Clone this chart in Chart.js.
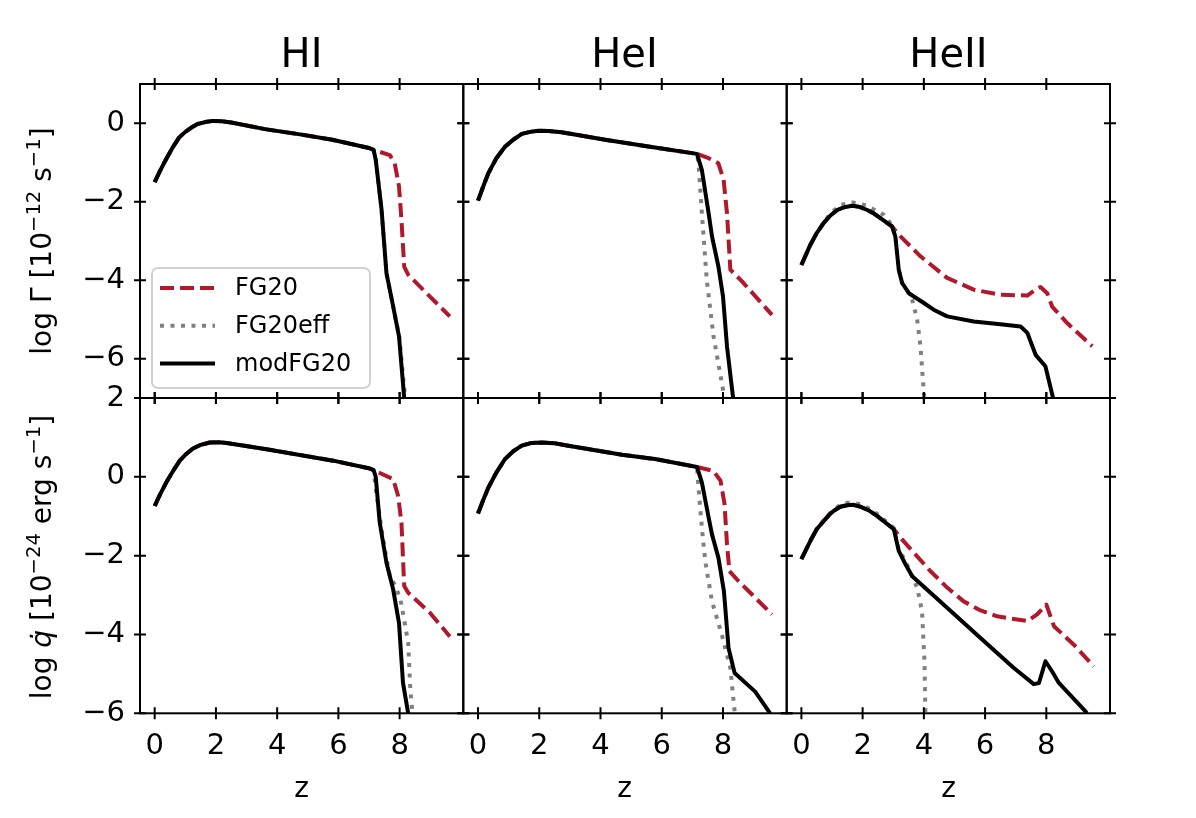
<!DOCTYPE html>
<html>
<head>
<meta charset="utf-8">
<script src="https://cdn.jsdelivr.net/npm/chart.js@4.4.1/dist/chart.umd.min.js"></script>
<style>
  html, body { margin: 0; padding: 0; background: #fff; }
  #fig { position: relative; width: 1196px; height: 818px; font-family: "DejaVu Sans", sans-serif; color: #000; overflow: hidden; }
  #fig canvas { position: absolute; left: 0; top: 0; }
  .title { position: absolute; top: 33px; width: 323px; text-align: center; font-size: 40px; line-height: 40px; }
  .xlab { position: absolute; top: 774px; width: 323px; text-align: center; font-size: 28px; line-height: 28px; }
  .ylab { position: absolute; left: -128px; width: 340px; height: 28px; font-size: 28px; line-height: 28px;
          text-align: center; white-space: nowrap; transform: rotate(-90deg); }
  .ylab sup { font-size: 70%; line-height: 0; vertical-align: 11px; }
</style>
</head>
<body>
<div id="fig">
  <canvas id="hiRate" width="1196" height="818"></canvas>
  <canvas id="heiRate" width="1196" height="818"></canvas>
  <canvas id="heiiRate" width="1196" height="818"></canvas>
  <canvas id="hiHeat" width="1196" height="818"></canvas>
  <canvas id="heiHeat" width="1196" height="818"></canvas>
  <canvas id="heiiHeat" width="1196" height="818"></canvas>

  <div class="title" style="left:140px">HI</div>
  <div class="title" style="left:463px">HeI</div>
  <div class="title" style="left:787px">HeII</div>

  <div class="ylab" style="top:227px">log &Gamma; [10<sup>&minus;12</sup> s<sup>&minus;1</sup>]</div>
  <div class="ylab" style="top:543px">log <i>q&#775;</i> [10<sup>&minus;24</sup> erg s<sup>&minus;1</sup>]</div>

  <div class="xlab" style="left:140px">z</div>
  <div class="xlab" style="left:463px">z</div>
  <div class="xlab" style="left:787px">z</div>
</div>

<script>
// ticks
const zTicks = [0, 2, 4, 6, 8];
const rateTicks = [-6, -4, -2, 0];
const heatTicks = [-6, -4, -2, 0, 2];

// --- HI, log Gamma (top left). base part is shared by all three curves
const hiRateZ = [0, 0.15, 0.3, 0.45, 0.6, 0.8, 1.0, 1.2, 1.4, 1.65, 1.9, 2.2, 2.5, 3.6, 4.8, 5.8, 7.0, 7.15];
const hiRate = [-1.5, -1.25, -1.02, -0.81, -0.6, -0.36, -0.22, -0.11, -0.02, 0.03, 0.06, 0.05, 0.02, -0.15, -0.29, -0.42, -0.63, -0.68];
const hiRateFgZ = [7.68, 7.84, 7.98, 8.06, 8.15, 8.28, 8.88, 9.64];
const hiRateFg = [-0.81, -1.02, -1.61, -2.46, -3.65, -3.86, -4.33, -4.92];
const hiRateEffZ = [7.22, 7.41, 7.57, 7.79, 7.99, 8.18];
const hiRateEff = [-0.93, -2.2, -3.82, -4.67, -5.45, -7.0];
const hiRateModZ = [7.22, 7.41, 7.57, 7.79, 7.98, 8.15];
const hiRateMod = [-0.93, -2.2, -3.82, -4.67, -5.43, -7.0];

// --- HI, log qdot (bottom left)
const hiHeatZ = [0, 0.18, 0.38, 0.6, 0.82, 1.03, 1.25, 1.5, 1.8, 2.1, 2.35, 3.65, 5.83, 7.03, 7.15];
const hiHeat = [-0.74, -0.44, -0.14, 0.15, 0.41, 0.58, 0.72, 0.81, 0.87, 0.88, 0.86, 0.70, 0.41, 0.21, 0.17];
const hiHeatFgZ = [7.79, 7.95, 8.06, 8.15, 8.28, 8.99, 9.64];
const hiHeatFg = [-0.06, -0.48, -1.16, -2.77, -2.94, -3.45, -4.05];
const hiHeatEffZ = [7.22, 7.46, 7.68, 7.89, 8.05, 8.28, 8.35, 8.42];
const hiHeatEff = [-0.31, -1.59, -2.52, -2.81, -3.2, -4.21, -5.4, -6.0];
const hiHeatModZ = [7.22, 7.35, 7.57, 7.79, 7.98, 8.11, 8.28];
const hiHeatMod = [0.0, -1.16, -2.18, -2.86, -3.71, -5.23, -6.0];

// --- HeI, log Gamma
const heiRateZ = [0, 0.17, 0.34, 0.6, 0.88, 1.15, 1.43, 1.7, 1.97, 2.3, 2.73, 4.15, 5.78, 7.15];
const heiRate = [-1.97, -1.61, -1.27, -0.89, -0.6, -0.42, -0.27, -0.22, -0.19, -0.2, -0.23, -0.42, -0.62, -0.78];
const heiRateFgZ = [7.53, 7.85, 8.02, 8.13, 8.24, 8.62, 9.6];
const heiRateFg = [-0.89, -1.02, -1.44, -2.29, -3.73, -4.03, -4.88];
const heiRateEffZ = [7.2, 7.31, 7.47, 7.69, 8.02, 8.06];
const heiRateEff = [-1.02, -2.29, -3.99, -5.43, -6.87, -7.0];
const heiRateModZ = [7.31, 7.53, 7.64, 7.85, 8.0, 8.13, 8.33];
const heiRateMod = [-1.19, -2.29, -2.88, -3.65, -4.41, -5.68, -7.0];

// --- HeI, log qdot
const heiHeatZ = [0, 0.17, 0.34, 0.6, 0.88, 1.15, 1.43, 1.75, 2.08, 2.5, 2.95, 4.7, 5.78, 7.15];
const heiHeat = [-0.93, -0.59, -0.27, 0.11, 0.45, 0.65, 0.79, 0.86, 0.87, 0.85, 0.79, 0.56, 0.45, 0.25];
const heiHeatFgZ = [7.69, 7.92, 8.05, 8.13, 8.21, 8.51, 9.6];
const heiHeatFg = [0.15, -0.1, -0.69, -1.71, -2.39, -2.65, -3.49];
const heiHeatEffZ = [7.2, 7.31, 7.42, 7.64, 7.96, 8.24, 8.38, 8.39];
const heiHeatEff = [-0.27, -1.29, -2.14, -3.16, -4.0, -4.85, -5.95, -6.0];
const heiHeatModZ = [7.31, 7.53, 7.64, 7.85, 8.03, 8.18, 8.38, 9.05, 9.54];
const heiHeatMod = [-0.14, -1.03, -1.46, -2.05, -2.9, -4.34, -4.98, -5.45, -6.0];

// --- HeII, log Gamma (FG20eff has its own full curve here)
const heiiRateZ = [0, 0.29, 0.5, 0.73, 0.95, 1.17, 1.4, 1.66, 1.9, 2.15, 2.35, 2.58, 2.96];
const heiiRate = [-3.61, -3.1, -2.8, -2.54, -2.35, -2.21, -2.14, -2.1, -2.13, -2.21, -2.29, -2.42, -2.63];
const heiiRateFgZ = [3.18, 3.89, 4.76, 5.63, 6.5, 7.38, 7.65, 7.81, 8.03, 8.19, 8.68, 9.5];
const heiiRateFg = [-2.84, -3.39, -3.94, -4.24, -4.37, -4.39, -4.24, -4.17, -4.33, -4.67, -5.09, -5.68];
const heiiRateEffZ = [0, 0.29, 0.5, 0.73, 0.95, 1.27, 1.66, 1.9, 2.15, 2.35, 2.69, 2.96, 3.07, 3.18, 3.29, 3.51, 3.62, 3.78, 3.89, 4.0, 4.02];
const heiiRateEff = [-3.61, -3.1, -2.79, -2.52, -2.3, -2.08, -2.02, -2.05, -2.1, -2.19, -2.33, -2.6, -2.89, -3.73, -4.07, -4.33, -4.5, -5.0, -5.68, -6.87, -7.0];
const heiiRateModZ = [3.07, 3.18, 3.29, 3.51, 4.0, 4.32, 4.76, 5.63, 6.5, 7.16, 7.38, 7.65, 7.97, 8.22];
const heiiRateMod = [-2.89, -3.73, -4.07, -4.33, -4.58, -4.75, -4.92, -5.05, -5.12, -5.18, -5.34, -5.9, -6.19, -7.0];

// --- HeII, log qdot
const heiiHeatZ = [0, 0.29, 0.5, 0.73, 0.9, 1.06, 1.27, 1.49, 1.7, 1.93, 2.2, 2.47, 3.02];
const heiiHeat = [-2.09, -1.63, -1.33, -1.12, -0.97, -0.86, -0.76, -0.72, -0.71, -0.76, -0.85, -0.99, -1.33];
const heiiHeatFgZ = [3.23, 4.21, 4.76, 5.3, 5.85, 6.39, 7.38, 7.7, 8.0, 8.25, 8.9, 9.55];
const heiiHeatFg = [-1.54, -2.39, -2.81, -3.16, -3.39, -3.54, -3.66, -3.49, -3.24, -3.79, -4.26, -4.81];
const heiiHeatEffZ = [0, 0.29, 0.5, 0.73, 0.9, 1.06, 1.27, 1.49, 1.7, 1.93, 2.2, 2.47, 3.02, 3.18, 3.4, 3.78, 3.94, 4.02, 4.05];
const heiiHeatEff = [-2.09, -1.63, -1.32, -1.1, -0.95, -0.82, -0.72, -0.66, -0.66, -0.7, -0.8, -0.94, -1.3, -1.85, -2.14, -2.81, -3.41, -4.68, -6.0];
const heiiHeatModZ = [3.18, 3.4, 3.62, 4.76, 5.85, 6.94, 7.59, 7.76, 7.97, 8.19, 8.41, 9.28, 9.32];
const heiiHeatMod = [-1.88, -2.22, -2.52, -3.32, -4.09, -4.85, -5.26, -5.23, -4.68, -4.94, -5.23, -5.95, -6.0];

// panel frame in page pixels
const colEdges = [140, 463.3, 786.7, 1110];
const rowEdges = [84, 398, 713.3];
const Y_AXIS_W = 80;
const X_AXIS_H = 60;
const TICK = 6;
const FONT = '"DejaVu Sans", sans-serif';

function pts(zs, vs) {
  return zs.map((z, i) => ({ x: z, y: vs[i] }));
}

// matplotlib style box with in-out ticks on every side
const frameTicks = {
  id: 'frameTicks',
  afterDatasetsDraw(chart) {
    const { ctx, chartArea: a, scales: { x, y } } = chart;
    ctx.save();
    ctx.strokeStyle = '#000';
    ctx.lineWidth = 2;
    ctx.strokeRect(a.left, a.top, a.right - a.left, a.bottom - a.top);
    ctx.beginPath();
    x.ticks.forEach(t => {
      const px = x.getPixelForValue(t.value);
      ctx.moveTo(px, a.top - TICK); ctx.lineTo(px, a.top + TICK);
      ctx.moveTo(px, a.bottom - TICK); ctx.lineTo(px, a.bottom + TICK);
    });
    y.ticks.forEach(t => {
      const py = y.getPixelForValue(t.value);
      ctx.moveTo(a.left - TICK, py); ctx.lineTo(a.left + TICK, py);
      ctx.moveTo(a.right - TICK, py); ctx.lineTo(a.right + TICK, py);
    });
    ctx.stroke();
    ctx.restore();
  }
};

// legend box in the lower left of the first panel
const insetLegend = {
  id: 'insetLegend',
  afterDraw(chart) {
    const { ctx, chartArea: a } = chart;
    const x0 = a.left + 12, w = 218, h = 120, y0 = a.bottom - 10 - h;
    ctx.save();
    ctx.beginPath();
    ctx.roundRect(x0, y0, w, h, 6);
    ctx.fillStyle = 'rgba(255,255,255,0.8)';
    ctx.fill();
    ctx.strokeStyle = 'rgba(204,204,204,0.9)';
    ctx.lineWidth = 2;
    ctx.stroke();
    ctx.font = '24px ' + FONT;
    ctx.textBaseline = 'middle';
    chart.data.datasets.forEach((ds, i) => {
      const yy = y0 + 20 + i * 37.8;
      ctx.beginPath();
      ctx.setLineDash(ds.borderDash || []);
      ctx.strokeStyle = ds.borderColor;
      ctx.lineWidth = ds.borderWidth;
      ctx.moveTo(x0 + 8, yy);
      ctx.lineTo(x0 + 63, yy);
      ctx.stroke();
      ctx.setLineDash([]);
      ctx.fillStyle = '#000';
      ctx.fillText(ds.label, x0 + 83, yy + 1);
    });
    ctx.restore();
  }
};

function makePanel(id, col, row, fg, eff, mod) {
  const yTicks = row === 0 ? rateTicks : heatTicks;
  const plugins = [frameTicks];
  if (col === 0 && row === 0) plugins.push(insetLegend);

  new Chart(document.getElementById(id), {
    type: 'line',
    data: {
      datasets: [{
        label: 'FG20',
        data: fg,
        borderColor: '#b2182b',
        borderDash: [14, 6],
        borderWidth: 4,
        order: 3
      }, {
        label: 'FG20eff',
        data: eff,
        borderColor: '#808080',
        borderDash: [4, 6.5],
        borderWidth: 4,
        order: 2
      }, {
        label: 'modFG20',
        data: mod,
        borderColor: '#000000',
        borderWidth: 4,
        order: 1
      }]
    },
    options: {
      responsive: false,
      animation: false,
      events: [],
      layout: {
        padding: {
          left: colEdges[col] - Y_AXIS_W,
          right: 1196 - colEdges[col + 1],
          top: rowEdges[row],
          bottom: 818 - rowEdges[row + 1] - X_AXIS_H
        }
      },
      elements: {
        point: { radius: 0 },
        line: { tension: 0, fill: false, borderJoinStyle: 'round' }
      },
      scales: {
        x: {
          type: 'linear',
          min: -0.48,
          max: 10.08,
          grid: { display: false, drawTicks: false },
          border: { display: false },
          afterBuildTicks: s => { s.ticks = zTicks.map(v => ({ value: v })); },
          afterFit: s => { s.height = X_AXIS_H; },
          ticks: {
            display: row === 1,
            autoSkip: false,
            maxRotation: 0,
            padding: 16,
            color: '#000',
            font: { family: FONT, size: 29 }
          }
        },
        y: {
          type: 'linear',
          min: row === 0 ? -7 : -6,
          max: row === 0 ? 1 : 2,
          grid: { display: false, drawTicks: false },
          border: { display: false },
          afterBuildTicks: s => { s.ticks = yTicks.map(v => ({ value: v })); },
          afterFit: s => { s.width = Y_AXIS_W; },
          ticks: {
            display: col === 0,
            autoSkip: false,
            padding: 15,
            color: '#000',
            font: { family: FONT, size: 29 },
            callback: v => (v < 0 ? '\u2212' + Math.abs(v) : String(v))
          }
        }
      },
      plugins: {
        legend: { display: false },
        tooltip: { enabled: false }
      }
    },
    plugins: plugins
  });
}

makePanel('hiRate', 0, 0,
  pts(hiRateZ.concat(hiRateFgZ), hiRate.concat(hiRateFg)),
  pts(hiRateZ.concat(hiRateEffZ), hiRate.concat(hiRateEff)),
  pts(hiRateZ.concat(hiRateModZ), hiRate.concat(hiRateMod)));
makePanel('heiRate', 1, 0,
  pts(heiRateZ.concat(heiRateFgZ), heiRate.concat(heiRateFg)),
  pts(heiRateZ.concat(heiRateEffZ), heiRate.concat(heiRateEff)),
  pts(heiRateZ.concat(heiRateModZ), heiRate.concat(heiRateMod)));
makePanel('heiiRate', 2, 0,
  pts(heiiRateZ.concat(heiiRateFgZ), heiiRate.concat(heiiRateFg)),
  pts(heiiRateEffZ, heiiRateEff),
  pts(heiiRateZ.concat(heiiRateModZ), heiiRate.concat(heiiRateMod)));
makePanel('hiHeat', 0, 1,
  pts(hiHeatZ.concat(hiHeatFgZ), hiHeat.concat(hiHeatFg)),
  pts(hiHeatZ.concat(hiHeatEffZ), hiHeat.concat(hiHeatEff)),
  pts(hiHeatZ.concat(hiHeatModZ), hiHeat.concat(hiHeatMod)));
makePanel('heiHeat', 1, 1,
  pts(heiHeatZ.concat(heiHeatFgZ), heiHeat.concat(heiHeatFg)),
  pts(heiHeatZ.concat(heiHeatEffZ), heiHeat.concat(heiHeatEff)),
  pts(heiHeatZ.concat(heiHeatModZ), heiHeat.concat(heiHeatMod)));
makePanel('heiiHeat', 2, 1,
  pts(heiiHeatZ.concat(heiiHeatFgZ), heiiHeat.concat(heiiHeatFg)),
  pts(heiiHeatEffZ, heiiHeatEff),
  pts(heiiHeatZ.concat(heiiHeatModZ), heiiHeat.concat(heiiHeatMod)));
</script>
</body>
</html>
